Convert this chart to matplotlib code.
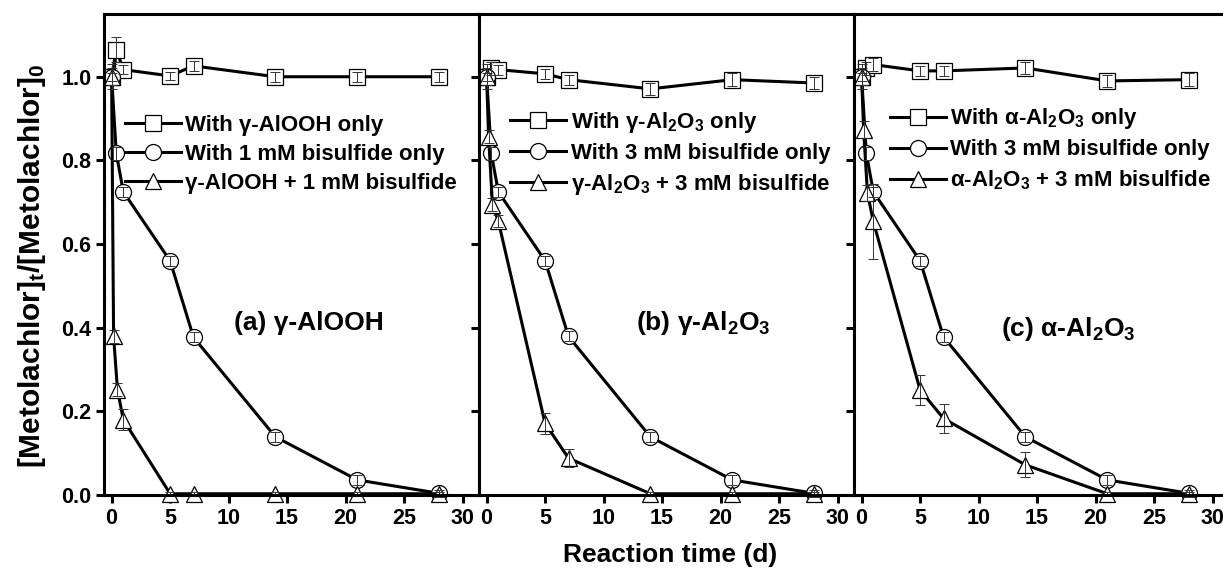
import matplotlib
matplotlib.use('Agg')
import matplotlib.pyplot as plt
from matplotlib.lines import Line2D

plt.rcParams['font.family'] = ['Liberation Sans', 'DejaVu Sans']
plt.rcParams['font.weight'] = 'bold'
plt.rcParams['mathtext.fontset'] = 'custom'
plt.rcParams['mathtext.rm'] = 'Liberation Sans:bold'
plt.rcParams['mathtext.it'] = 'Liberation Sans:bold'
plt.rcParams['mathtext.bf'] = 'Liberation Sans:bold'

# ---------------- data ----------------
t_sq = [0, 0.4, 1, 5, 7, 14, 21, 28]
t_ci = [0, 0.4, 1, 5, 7, 14, 21, 28]
t_tr = [0, 0.17, 0.5, 1, 5, 7, 14, 21, 28]

a_sq = [1.0, 1.065, 1.017, 1.002, 1.026, 1.0, 1.0, 1.0]
a_sq_err = [0.01, 0.03, 0.01, 0.01, 0.012, 0.012, 0.012, 0.012]
a_ci = [1.0, 0.817, 0.725, 0.56, 0.377, 0.139, 0.036, 0.004]
a_ci_err = [0.03, 0.015, 0.012, 0.012, 0.012, 0.012, 0.012, 0.008]
a_tr = [1.0, 0.379, 0.252, 0.18, 0.003, 0.003, 0.003, 0.003, 0.003]
a_tr_err = [0.02, 0.015, 0.015, 0.025, 0.004, 0.004, 0.004, 0.004, 0.004]

b_sq = [1.0, 1.02, 1.017, 1.007, 0.993, 0.971, 0.993, 0.985]
b_sq_err = [0.01, 0.015, 0.012, 0.012, 0.012, 0.015, 0.015, 0.015]
b_ci = [1.0, 0.817, 0.725, 0.56, 0.379, 0.139, 0.036, 0.004]
b_ci_err = [0.03, 0.015, 0.012, 0.012, 0.012, 0.012, 0.012, 0.008]
b_tr = [1.0, 0.857, 0.694, 0.655, 0.171, 0.088, 0.003, 0.003, 0.003]
b_tr_err = [0.02, 0.015, 0.015, 0.015, 0.025, 0.022, 0.004, 0.004, 0.004]

c_sq = [1.0, 1.02, 1.029, 1.014, 1.014, 1.021, 0.990, 0.993]
c_sq_err = [0.01, 0.015, 0.015, 0.012, 0.012, 0.015, 0.015, 0.015]
c_ci = [1.0, 0.817, 0.725, 0.56, 0.378, 0.139, 0.036, 0.004]
c_ci_err = [0.03, 0.015, 0.012, 0.012, 0.012, 0.012, 0.012, 0.008]
c_tr = [1.0, 0.873, 0.722, 0.654, 0.251, 0.183, 0.072, 0.003, 0.003]
c_tr_err = [0.02, 0.02, 0.02, 0.09, 0.035, 0.035, 0.03, 0.004, 0.004]

labels_a = ["With \u03b3-AlOOH only", "With 1 mM bisulfide only",
            "\u03b3-AlOOH + 1 mM bisulfide"]
labels_b = ["With \u03b3-Al$_2$O$_3$ only", "With 3 mM bisulfide only",
            "\u03b3-Al$_2$O$_3$ + 3 mM bisulfide"]
labels_c = ["With \u03b1-Al$_2$O$_3$ only", "With 3 mM bisulfide only",
            "\u03b1-Al$_2$O$_3$ + 3 mM bisulfide"]
panel_titles = ["(a) \u03b3-AlOOH", "(b) \u03b3-Al$_2$O$_3$", "(c) \u03b1-Al$_2$O$_3$"]

x_ticks = [0, 5, 10, 15, 20, 25, 30]
y_ticks = [0.0, 0.2, 0.4, 0.6, 0.8, 1.0]

panels = [
    (a_sq, a_sq_err, a_ci, a_ci_err, a_tr, a_tr_err, labels_a),
    (b_sq, b_sq_err, b_ci, b_ci_err, b_tr, b_tr_err, labels_b),
    (c_sq, c_sq_err, c_ci, c_ci_err, c_tr, c_tr_err, labels_c),
]

# ---------------- layout ----------------
W, H = 1223, 576
fig = plt.figure(figsize=(W / 100, H / 100), dpi=100)
ax_w = 375 / W
bottom = (H - 495) / H
height = (495 - 14) / H
lefts = [104 / W, 479 / W, 854 / W]
leg_anchor = [(0.056, 0.790), (0.083, 0.800), (0.096, 0.808)]
title_pos = [(16.9, 0.395), (18.5, 0.395), (17.7, 0.38)]

LW = 2.2
MS = 11.5
MEW = 0.9

for i, (sq, sqe, ci, cie, tr, tre, labs) in enumerate(panels):
    ax = fig.add_axes([lefts[i], bottom, ax_w, height])
    series = [(t_sq, sq, sqe, 's'), (t_ci, ci, cie, 'o'), (t_tr, tr, tre, '^')]
    for k, (tt, yy, ee, mk) in enumerate(series):
        ax.plot(tt, yy, color='black', lw=LW, marker=mk, ms=MS, mfc='white',
                mec='black', mew=MEW, zorder=3 + k, clip_on=False)
        ax.errorbar(tt, yy, yerr=ee, fmt='none', ecolor='#333333',
                    elinewidth=0.7, capsize=3.5, capthick=0.7, zorder=6 + k,
                    clip_on=False)
    handles = [Line2D([], [], color='black', lw=LW, marker=m, ms=MS, mfc='white',
                      mec='black', mew=MEW) for m in ['s', 'o', '^']]
    ax.legend(handles, labs, loc='upper left', bbox_to_anchor=leg_anchor[i],
              frameon=False, fontsize=16, handlelength=2.5, handletextpad=0.22,
              labelspacing=0.36, borderpad=0, borderaxespad=0, numpoints=1)
    ax.text(title_pos[i][0], title_pos[i][1], panel_titles[i], fontsize=19,
            fontweight='bold', ha='center', va='baseline')
    ax.set_xlim(-0.65, 31.4)
    ax.set_ylim(0, 1.15)
    ax.set_xticks(x_ticks)
    ax.set_yticks(y_ticks)
    for sp in ax.spines.values():
        sp.set_linewidth(LW)
        sp.set_zorder(10)
    ax.tick_params(axis='both', direction='out', length=6, width=LW,
                   labelsize=15.5, pad=3)
    for lbl in ax.get_xticklabels() + ax.get_yticklabels():
        lbl.set_fontweight('bold')
    if i == 0:
        ax.set_yticklabels([f"{v:.1f}" for v in y_ticks])
        ax.set_ylabel("[Metolachlor]$_t$/[Metolachlor]$_0$", fontsize=21.5,
                      fontweight='bold')
        ax.yaxis.set_label_coords(-0.15, 0.476)
    else:
        ax.set_yticklabels([])
    if i == 1:
        ax.set_xlabel("Reaction time (d)", fontsize=19, fontweight='bold')
        ax.xaxis.set_label_coords(0.51, -0.1)

fig.savefig('out.png', dpi=100)
